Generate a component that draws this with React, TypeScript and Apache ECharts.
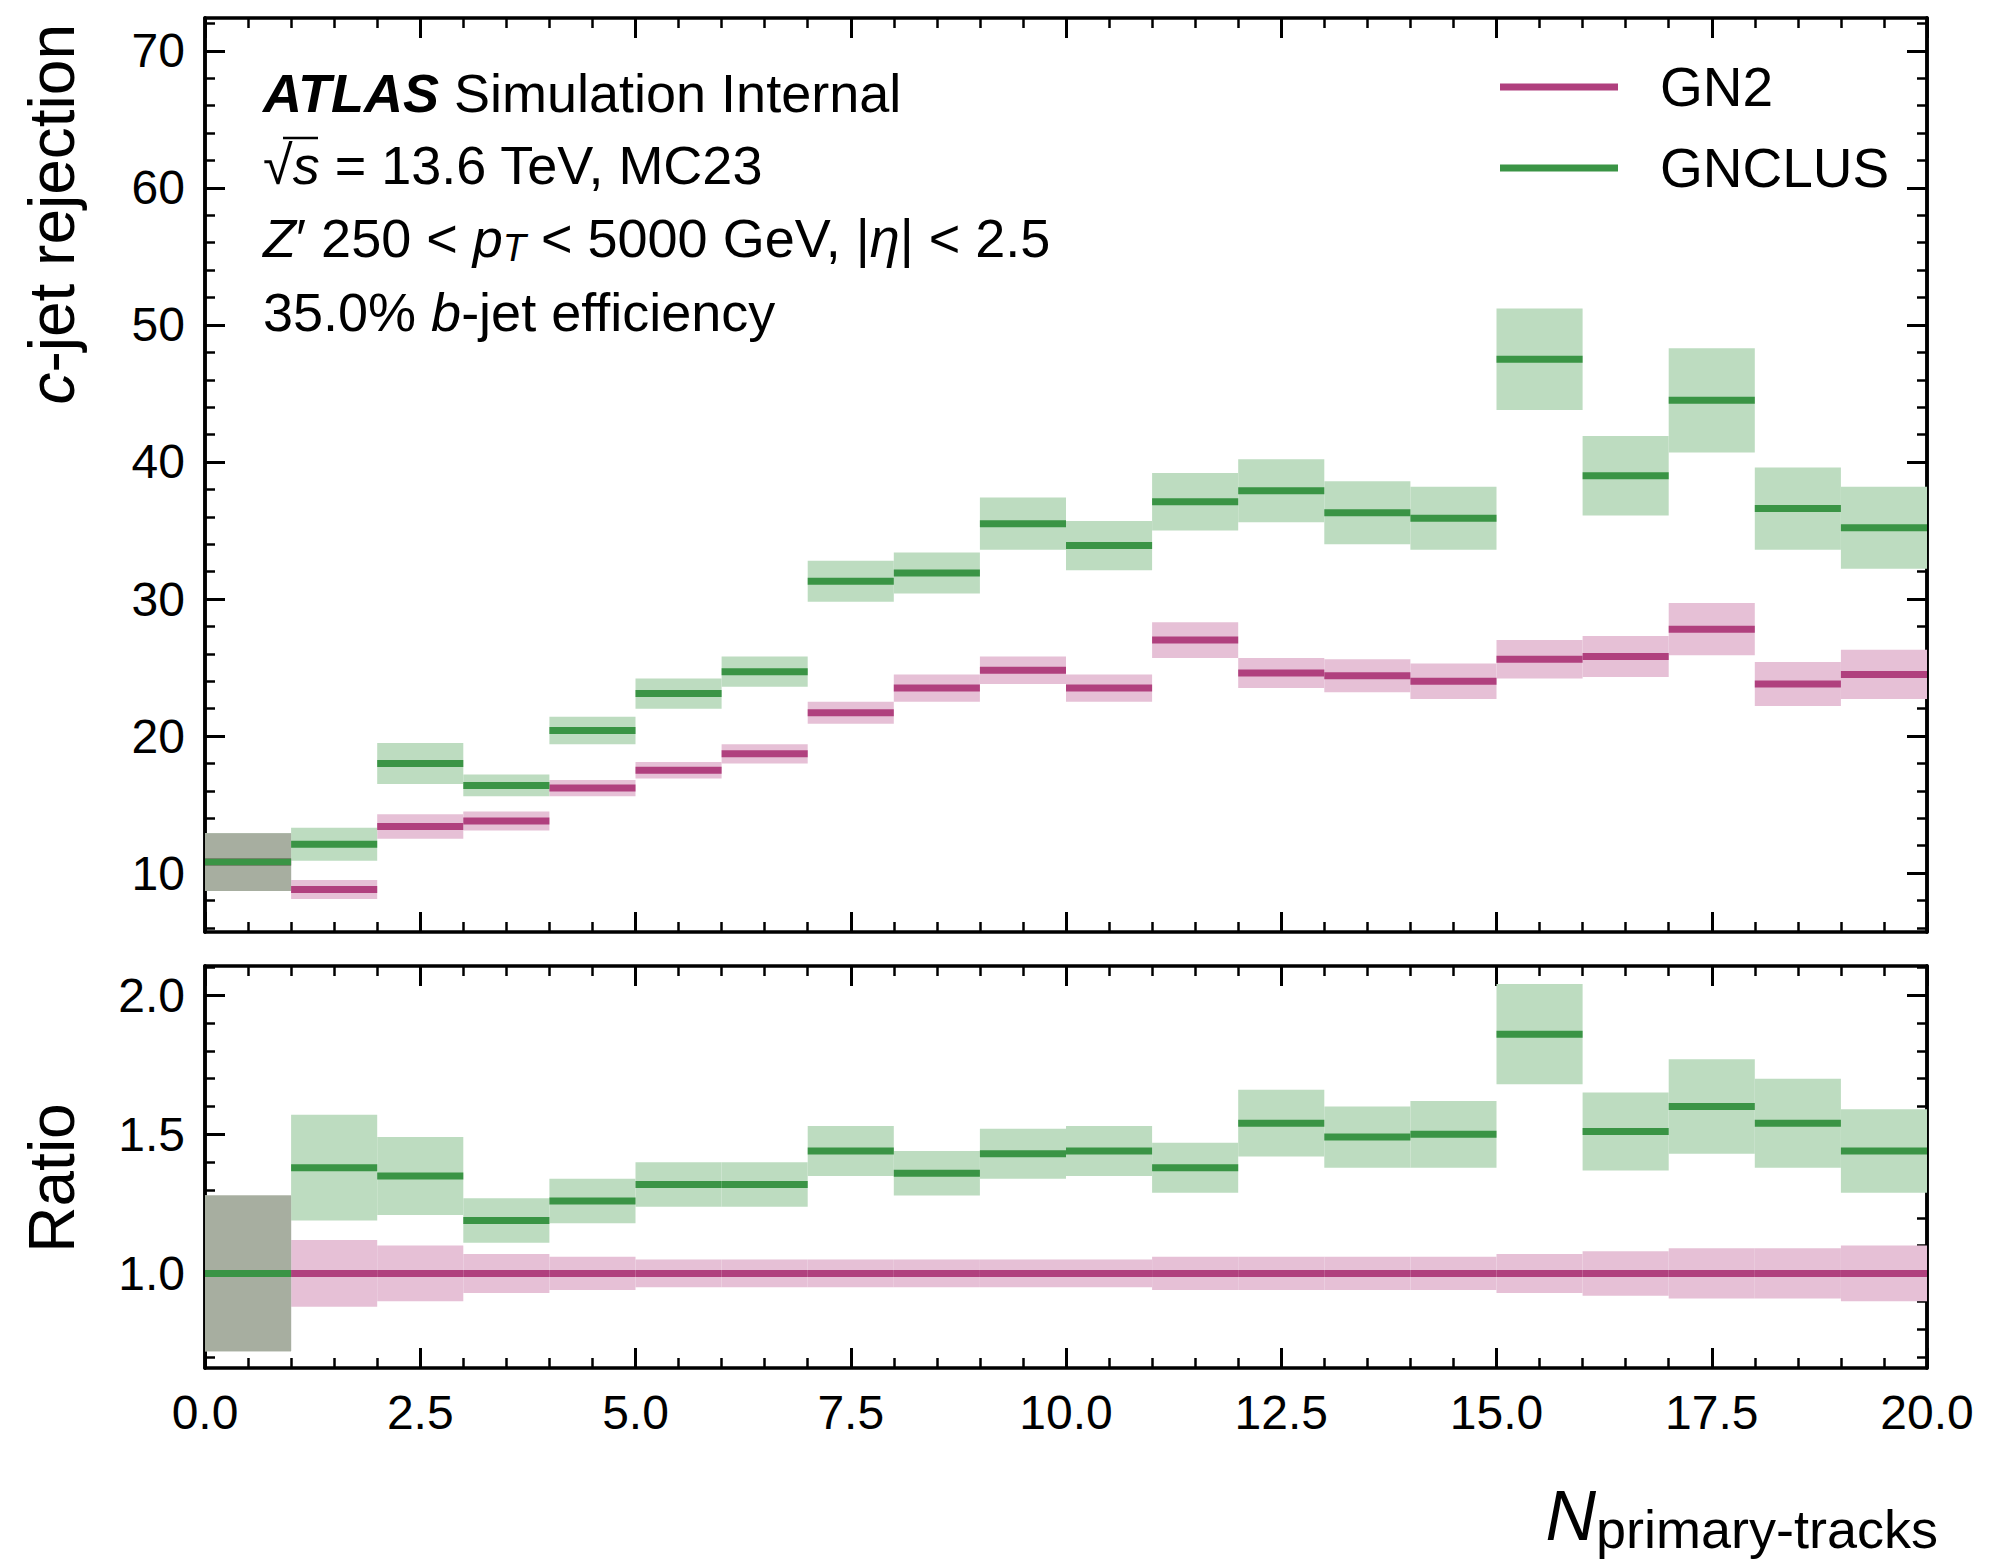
import { useEffect, useRef } from "react";
import * as echarts from "echarts";

// bin lower edges 0..19, width 1
const binEdges = [0, 1, 2, 3, 4, 5, 6, 7, 8, 9, 10, 11, 12, 13, 14, 15, 16, 17, 18, 19];
const gn2Rej = [10.8, 8.8, 13.4, 13.8, 16.2, 17.5, 18.7, 21.7, 23.5, 24.8, 23.5, 27.0, 24.6, 24.4, 24.0, 25.6, 25.8, 27.8, 23.8, 24.5];
const gn2RejErr = [2.1, 0.7, 0.9, 0.7, 0.6, 0.6, 0.7, 0.8, 1.0, 1.0, 1.0, 1.3, 1.1, 1.2, 1.3, 1.4, 1.5, 1.9, 1.6, 1.8];
const clusRej = [10.8, 12.1, 18.0, 16.4, 20.4, 23.1, 24.7, 31.3, 31.9, 35.5, 33.9, 37.1, 37.9, 36.3, 35.9, 47.5, 39.0, 44.5, 36.6, 35.2];
const clusRejErr = [2.1, 1.2, 1.5, 0.8, 1.0, 1.1, 1.1, 1.5, 1.5, 1.9, 1.8, 2.1, 2.3, 2.3, 2.3, 3.7, 2.9, 3.8, 3.0, 3.0];
const gn2Ratio = [1, 1, 1, 1, 1, 1, 1, 1, 1, 1, 1, 1, 1, 1, 1, 1, 1, 1, 1, 1];
const gn2RatioErr = [0.28, 0.12, 0.1, 0.07, 0.06, 0.05, 0.05, 0.05, 0.05, 0.05, 0.05, 0.06, 0.06, 0.06, 0.06, 0.07, 0.08, 0.09, 0.09, 0.1];
const clusRatio = [1.0, 1.38, 1.35, 1.19, 1.26, 1.32, 1.32, 1.44, 1.36, 1.43, 1.44, 1.38, 1.54, 1.49, 1.5, 1.86, 1.51, 1.6, 1.54, 1.44];
const clusRatioErr = [0.28, 0.19, 0.14, 0.08, 0.08, 0.08, 0.08, 0.09, 0.08, 0.09, 0.09, 0.09, 0.12, 0.11, 0.12, 0.18, 0.14, 0.17, 0.16, 0.15];

const topMajor = [10, 20, 30, 40, 50, 60, 70];
const ratioMajor = [1.0, 1.5, 2.0];

const PINK = "#b0407e";
const PINK_BAND = "#e6c0d6";
const GREEN = "#3a9445";
const GREEN_BAND = "#bddcc0";
const OVERLAP = "#a7aea0";
const FONT = "Liberation Sans";

function minorValues(lo: number, hi: number, step: number, major: number[]) {
  const out: number[] = [];
  for (let k = Math.ceil(lo / step); k * step <= hi; k++) {
    const v = Math.round(k * step * 1000) / 1000;
    if (!major.some((m) => Math.abs(m - v) < 1e-6)) out.push(v);
  }
  return out;
}

const rows = (c: number[], e: number[]) => binEdges.map((x, i) => [x, c[i], e[i]]);
const overlapRows = (c1: number[], e1: number[], c2: number[], e2: number[]) =>
  binEdges.map((x, i) => {
    const lo = Math.max(c1[i] - e1[i], c2[i] - e2[i]);
    const hi = Math.min(c1[i] + e1[i], c2[i] + e2[i]);
    return [x, lo, hi];
  });

const bandSeries = (data: number[][], color: string, xi: number, yi: number) => ({
  type: "custom",
  xAxisIndex: xi,
  yAxisIndex: yi,
  data,
  encode: { x: 0, y: 1 },
  renderItem: (_p: any, api: any) => {
    const x = api.value(0), c = api.value(1), e = api.value(2);
    const a = api.coord([x, c + e]);
    const b = api.coord([x + 1, c - e]);
    return { type: "rect", shape: { x: a[0], y: a[1], width: b[0] - a[0], height: b[1] - a[1] }, style: { fill: color } };
  },
});

const overlapSeries = (data: number[][], xi: number, yi: number) => ({
  type: "custom",
  xAxisIndex: xi,
  yAxisIndex: yi,
  data,
  encode: { x: 0, y: 1 },
  renderItem: (_p: any, api: any) => {
    const x = api.value(0), lo = api.value(1), hi = api.value(2);
    if (hi <= lo) return null;
    const a = api.coord([x, hi]);
    const b = api.coord([x + 1, lo]);
    return { type: "rect", shape: { x: a[0], y: a[1], width: b[0] - a[0], height: b[1] - a[1] }, style: { fill: OVERLAP } };
  },
});

const lineSeries = (data: number[][], color: string, xi: number, yi: number) => ({
  type: "custom",
  xAxisIndex: xi,
  yAxisIndex: yi,
  data,
  encode: { x: 0, y: 1 },
  renderItem: (_p: any, api: any) => {
    const x = api.value(0), c = api.value(1);
    const a = api.coord([x, c]);
    const b = api.coord([x + 1, c]);
    return { type: "line", shape: { x1: a[0], y1: a[1], x2: b[0], y2: b[1] }, style: { stroke: color, lineWidth: 7 } };
  },
});

const axisLine = { show: true, onZero: false, lineStyle: { color: "#000", width: 3.5 } };

const xAxisDef = (grid: number, pos: string, labels: boolean) => ({
  type: "value",
  gridIndex: grid,
  position: pos,
  min: 0,
  max: 20,
  interval: 2.5,
  axisLine,
  splitLine: { show: false },
  axisTick: { show: true, inside: true, length: 20, lineStyle: { width: 3, color: "#000" } },
  minorTick: { show: true, splitNumber: 5, length: 10, lineStyle: { width: 2.5, color: "#000" } },
  axisLabel: {
    show: labels,
    fontSize: 48,
    fontFamily: FONT,
    color: "#000",
    margin: 20,
    formatter: (v: number) => v.toFixed(1),
  },
});

const yAxisDef = (grid: number, pos: string, min: number, max: number, vals: number[], minor: boolean, labels: boolean, dec: number) => ({
  type: "value",
  gridIndex: grid,
  position: pos,
  min,
  max,
  axisLine,
  splitLine: { show: false },
  axisTick: { show: true, inside: true, length: minor ? 10 : 20, customValues: vals, lineStyle: { width: minor ? 2.5 : 3, color: "#000" } },
  axisLabel: {
    show: labels,
    customValues: vals,
    fontSize: 48,
    fontFamily: FONT,
    color: "#000",
    margin: 20,
    formatter: (v: number) => v.toFixed(dec),
  },
});

export default function App() {
  const ref = useRef<HTMLDivElement>(null);

  useEffect(() => {
    document.body.style.margin = "0";
    if (!ref.current) return;
    const chart = echarts.init(ref.current, null, { renderer: "svg" });

    const topMinor = minorValues(6, 72, 2, topMajor);
    const ratioMinor = minorValues(0.7, 2.1, 0.1, ratioMajor);

    const txt = (y: number, text: string, rich: any) => ({
      type: "text",
      x: 263,
      y,
      style: { text, rich, fontSize: 54, fontFamily: FONT, fill: "#000", verticalAlign: "middle" },
    });
    const base = { fontSize: 54, fontFamily: FONT, fill: "#000", color: "#000" };
    const rich = {
      n: { ...base },
      b: { ...base, fontWeight: "bold", fontStyle: "italic" },
      i: { ...base, fontStyle: "italic" },
      sub: { ...base, fontStyle: "italic", fontSize: 38, verticalAlign: "bottom", padding: [20, 0, 0, 0] },
    };

    const option: any = {
      animation: false,
      backgroundColor: "#fff",
      grid: [
        { left: 205, top: 18, width: 1722, height: 914 },
        { left: 205, top: 966, width: 1722, height: 402 },
      ],
      xAxis: [
        xAxisDef(0, "bottom", false),
        xAxisDef(0, "top", false),
        xAxisDef(1, "bottom", true),
        xAxisDef(1, "top", false),
      ],
      yAxis: [
        yAxisDef(0, "left", 5.7, 72.4, topMajor, false, true, 0),
        yAxisDef(0, "left", 5.7, 72.4, topMinor, true, false, 0),
        yAxisDef(0, "right", 5.7, 72.4, topMajor, false, false, 0),
        yAxisDef(0, "right", 5.7, 72.4, topMinor, true, false, 0),
        yAxisDef(1, "left", 0.66, 2.105, ratioMajor, false, true, 1),
        yAxisDef(1, "left", 0.66, 2.105, ratioMinor, true, false, 1),
        yAxisDef(1, "right", 0.66, 2.105, ratioMajor, false, false, 1),
        yAxisDef(1, "right", 0.66, 2.105, ratioMinor, true, false, 1),
      ],
      series: [
        bandSeries(rows(gn2Rej, gn2RejErr), PINK_BAND, 0, 0),
        bandSeries(rows(clusRej, clusRejErr), GREEN_BAND, 0, 0),
        overlapSeries(overlapRows(gn2Rej, gn2RejErr, clusRej, clusRejErr), 0, 0),
        lineSeries(rows(gn2Rej, gn2RejErr), PINK, 0, 0),
        lineSeries(rows(clusRej, clusRejErr), GREEN, 0, 0),
        bandSeries(rows(gn2Ratio, gn2RatioErr), PINK_BAND, 2, 4),
        bandSeries(rows(clusRatio, clusRatioErr), GREEN_BAND, 2, 4),
        overlapSeries(overlapRows(gn2Ratio, gn2RatioErr, clusRatio, clusRatioErr), 2, 4),
        lineSeries(rows(gn2Ratio, gn2RatioErr), PINK, 2, 4),
        lineSeries(rows(clusRatio, clusRatioErr), GREEN, 2, 4),
      ],
      graphic: [
        txt(93, "{b|ATLAS} {n|Simulation Internal}", rich),
        txt(165, "{n|√}{i|s}{n| = 13.6 TeV, MC23}", rich),
        { type: "line", shape: { x1: 283, y1: 138, x2: 318, y2: 138 }, style: { stroke: "#000", lineWidth: 2.5 } },
        txt(238, "{i|Z}{n|′ 250 < }{i|p}{sub|T}{n| < 5000 GeV, |}{i|η}{n|| < 2.5}", rich),
        txt(312, "{n|35.0% }{i|b}{n|-jet efficiency}", rich),
        { type: "line", shape: { x1: 1500, y1: 87, x2: 1618, y2: 87 }, style: { stroke: PINK, lineWidth: 7 } },
        { type: "line", shape: { x1: 1500, y1: 168, x2: 1618, y2: 168 }, style: { stroke: GREEN, lineWidth: 7 } },
        { type: "text", x: 1660, y: 87, style: { text: "GN2", fontSize: 55, fontFamily: FONT, fill: "#000", verticalAlign: "middle" } },
        { type: "text", x: 1660, y: 168, style: { text: "GNCLUS", fontSize: 55, fontFamily: FONT, fill: "#000", verticalAlign: "middle" } },
        {
          type: "text",
          x: 52,
          y: 24,
          rotation: Math.PI / 2,
          style: {
            text: "{i|c}{n|-jet rejection}",
            rich: { i: { ...base, fontSize: 64, fontStyle: "italic" }, n: { ...base, fontSize: 64 } },
            align: "right",
            verticalAlign: "middle",
          },
        },
        {
          type: "text",
          x: 52,
          y: 1178,
          rotation: Math.PI / 2,
          style: { text: "Ratio", fontSize: 64, fontFamily: FONT, fill: "#000", align: "center", verticalAlign: "middle" },
        },
        {
          type: "text",
          x: 1938,
          y: 1516,
          style: {
            text: "{i|N}{sub|primary-tracks}",
            rich: {
              i: { ...base, fontSize: 70, fontStyle: "italic" },
              sub: { ...base, fontSize: 54, padding: [26, 0, 0, 0] },
            },
            align: "right",
            verticalAlign: "middle",
          },
        },
      ],
    };

    chart.setOption(option);
    return () => chart.dispose();
  }, []);

  return <div ref={ref} style={{ width: 2000, height: 1560 }} />;
}
